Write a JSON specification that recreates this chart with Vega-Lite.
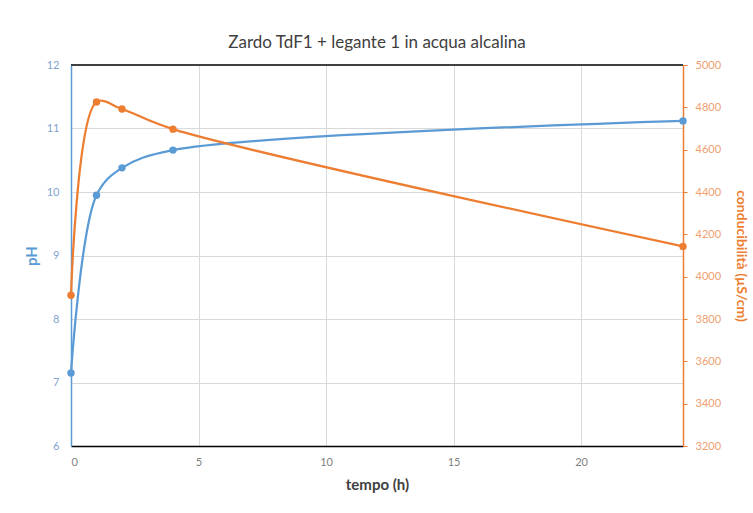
{
  "$schema": "https://vega.github.io/schema/vega-lite/v6.json",
  "width": 612,
  "height": 381,
  "autosize": {"type": "none"},
  "padding": {"left": 71, "top": 65, "right": 70, "bottom": 67},
  "background": "white",
  "config": {
    "font": "Lato",
    "view": {"stroke": null},
    "axis": {"labelFont": "Lato", "titleFont": "Lato", "labelFontSize": 11, "gridColor": "#d9d9d9", "gridWidth": 1}
  },
  "title": {"text": "Zardo TdF1 + legante 1 in acqua alcalina", "font": "Lato", "fontSize": 17, "fontWeight": "normal", "color": "#404040", "offset": 7},
  "data": {"values": [
    {"t": 0, "pH": 7.15, "cond": 3912},
    {"t": 1, "pH": 9.95, "cond": 4825},
    {"t": 2, "pH": 10.38, "cond": 4792},
    {"t": 4, "pH": 10.66, "cond": 4697},
    {"t": 24, "pH": 11.12, "cond": 4143}
  ]},
  "layer": [
    {
      "layer": [
        {"mark": {"type": "rule", "color": "#404040", "strokeWidth": 1.5},
          "encoding": {"y": {"datum": 12, "type": "quantitative"}, "x": {"datum": 0, "type": "quantitative"}, "x2": {"datum": 24}}},
        {"mark": {"type": "line", "interpolate": "catmull-rom", "color": "#5b9bd5", "strokeWidth": 2.25}},
        {"mark": {"type": "point", "filled": true, "opacity": 1, "color": "#5b9bd5", "size": 55}}
      ],
      "encoding": {
        "x": {"field": "t", "type": "quantitative", "scale": {"domain": [0, 24], "nice": false},
          "axis": {"title": "tempo (h)", "orient": "bottom", "values": [0, 5, 10, 15, 20], "grid": true, "ticks": false, "domain": true, "domainColor": "#000000", "domainWidth": 1.5, "labelColor": "#7f7f7f", "labelPadding": 10, "titleColor": "#404040", "titleFontSize": 15, "titleFontWeight": "bold", "titlePadding": 10}},
        "y": {"field": "pH", "type": "quantitative", "scale": {"domain": [6, 12], "nice": false, "zero": false},
          "axis": {"title": "pH", "orient": "left", "values": [6, 7, 8, 9, 10, 11, 12], "grid": true, "ticks": false, "domainColor": "#5b9bd5", "domainWidth": 1.5, "labelColor": "#7fa3cf", "labelPadding": 12, "titleColor": "#5b9bd5", "titleFontSize": 15, "titleFontWeight": "bold", "titlePadding": 7}}
      }
    },
    {
      "layer": [
        {"mark": {"type": "line", "interpolate": "catmull-rom", "color": "#ed7d31", "strokeWidth": 2.25}},
        {"mark": {"type": "point", "filled": true, "opacity": 1, "color": "#ed7d31", "size": 55}}
      ],
      "encoding": {
        "x": {"field": "t", "type": "quantitative"},
        "y": {"field": "cond", "type": "quantitative", "scale": {"domain": [3200, 5000], "nice": false, "zero": false},
          "axis": {"title": "conducibilità (µS/cm)", "orient": "right", "format": "d", "values": [3200, 3400, 3600, 3800, 4000, 4200, 4400, 4600, 4800, 5000], "grid": false, "ticks": true, "tickSize": 4, "tickColor": "#ed7d31", "domainColor": "#ed7d31", "domainWidth": 1.5, "labelColor": "#f0a070", "labelPadding": 8, "titleColor": "#ed7d31", "titleFontSize": 14, "titleFontWeight": "bold", "titlePadding": 13}}
      }
    }
  ],
  "resolve": {"scale": {"y": "independent"}}
}
